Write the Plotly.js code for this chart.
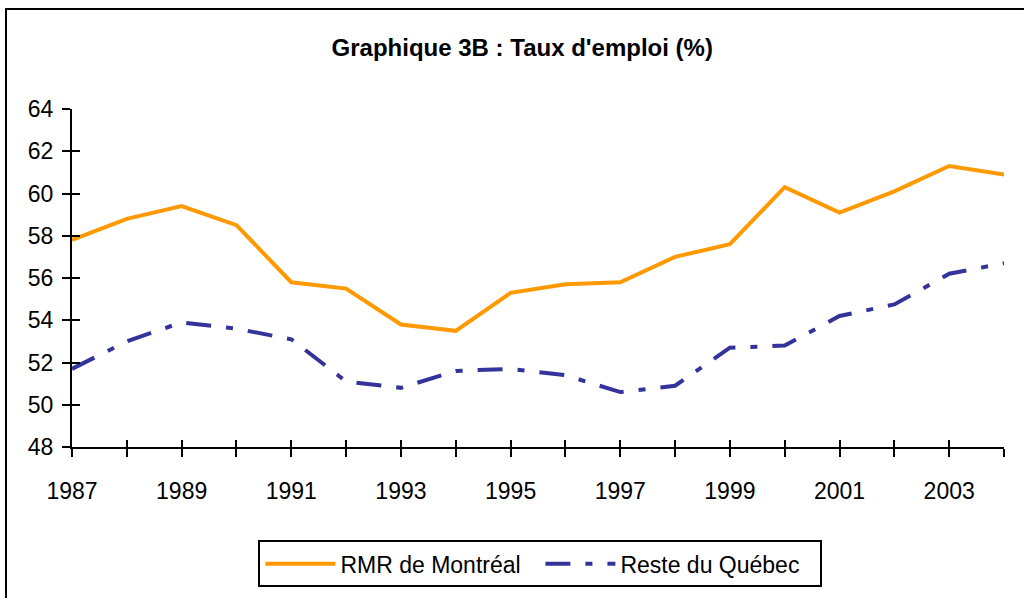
<!DOCTYPE html>
<html>
<head>
<meta charset="utf-8">
<script src="https://cdn.plot.ly/plotly-3.0.1.min.js"></script>
<style>
html,body{margin:0;padding:0;background:#fff;overflow:hidden;}
#frame{position:absolute;left:5px;top:8px;width:1030px;height:600px;border:2px solid #000;box-sizing:border-box;}
#chart{position:absolute;left:0;top:0;width:1024px;height:598px;}
</style>
</head>
<body>
<div id="frame"></div>
<div id="chart"></div>
<script>
var years = [1987,1988,1989,1990,1991,1992,1993,1994,1995,1996,1997,1998,1999,2000,2001,2002,2003,2004];
var montreal = [57.8,58.8,59.4,58.5,55.8,55.5,53.8,53.5,55.3,55.7,55.8,57.0,57.6,60.3,59.1,60.1,61.3,60.9];
var resteQuebec = [51.7,53.0,53.9,53.6,53.1,51.1,50.8,51.6,51.7,51.4,50.6,50.9,52.7,52.8,54.2,54.75,56.2,56.7];
var xTickLabels = years.map(function(y){ return (y % 2 === 1) ? String(y) : ""; });
var yTicks = [48,50,52,54,56,58,60,62,64];
var seriesNames = ["RMR de Montréal", "Reste du Québec"];
var titleText = "Graphique 3B : Taux d'emploi (%)";

var traces = [
  {x: years, y: montreal, name: seriesNames[0], type: 'scatter', mode: 'lines',
   line: {color: '#FF9900', width: 4}},
  {x: years, y: resteQuebec, name: seriesNames[1], type: 'scatter', mode: 'lines',
   line: {color: '#333399', width: 4, dash: '25px,15px,7px,15px'}},
  {x: [years[0]], y: [yTicks[0]], xaxis: 'x2', yaxis: 'y2', showlegend: false,
   mode: 'markers', marker: {opacity: 0}, hoverinfo: 'skip'}
];

var fam = 'Liberation Sans, Arial, sans-serif';
var axisFont = {family: fam, size: 23, color: '#000'};
var layout = {
  width: 1024, height: 598,
  paper_bgcolor: 'rgba(0,0,0,0)', plot_bgcolor: 'rgba(0,0,0,0)',
  margin: {l: 72, r: 20, t: 109, b: 150},
  font: {family: fam, color: '#000'},
  title: {text: '<b>' + titleText + '</b>', x: 0.51, xref: 'container', xanchor: 'center',
          y: 0.921, yanchor: 'middle',
          font: {size: 24, family: fam, color: '#000'}},
  xaxis: {range: [1987, 2004], tickvals: years, ticktext: xTickLabels,
          ticks: 'outside', ticklen: 8, tickwidth: 2, tickcolor: '#000',
          showline: true, linecolor: '#000', linewidth: 2, showgrid: false, zeroline: false,
          tickfont: axisFont, ticklabelstandoff: 14},
  yaxis: {range: [48, 64], tickvals: yTicks, ticks: 'outside', ticklen: 8, tickwidth: 2, tickcolor: '#000',
          showline: true, linecolor: '#000', linewidth: 2, showgrid: false, zeroline: false,
          tickfont: axisFont, ticklabelstandoff: 4},
  xaxis2: {range: [1987, 2004], tickvals: years, overlaying: 'x', ticks: 'inside', ticklen: 7, tickwidth: 2,
           tickcolor: '#000', showticklabels: false, showgrid: false, zeroline: false, showline: false},
  yaxis2: {range: [48, 64], tickvals: yTicks, overlaying: 'y', ticks: 'inside', ticklen: 8, tickwidth: 2,
           tickcolor: '#000', showticklabels: false, showgrid: false, zeroline: false, showline: false},
  legend: {orientation: 'h', x: 0.2, xanchor: 'left', y: -0.272, yanchor: 'top',
           bordercolor: '#000', borderwidth: 2, bgcolor: '#fff',
           font: {size: 23, family: fam, color: '#000'},
           itemwidth: 70, entrywidth: 195, entrywidthmode: 'pixels', tracegroupgap: 0},
  showlegend: true
};
Plotly.newPlot('chart', traces, layout, {displayModeBar: false, staticPlot: true});
</script>
</body>
</html>
